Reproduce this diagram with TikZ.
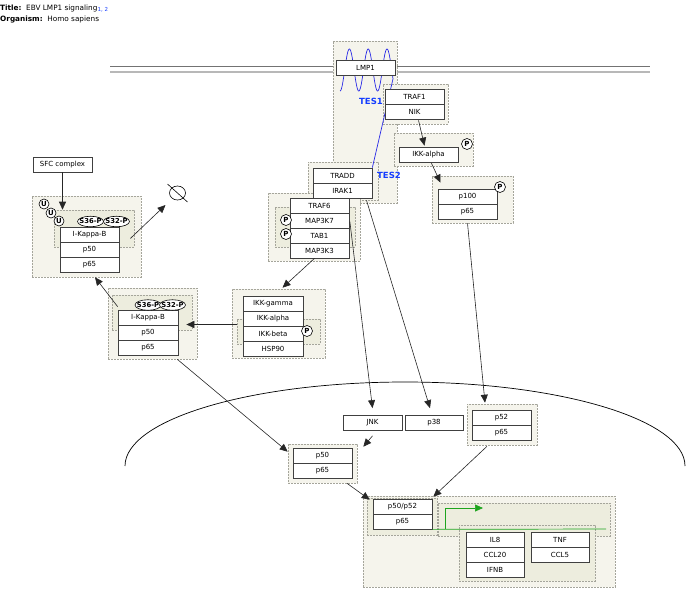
\documentclass[tikz,border=0pt]{standalone}
\usepackage{fontspec}
\setmainfont{DejaVu Sans}
\usetikzlibrary{arrows.meta,calc,fit,shapes.geometric}
\definecolor{gfill}{RGB}{245,244,236}
\definecolor{gin}{RGB}{237,237,222}
\definecolor{gborder}{RGB}{165,165,155}
\definecolor{tesblue}{RGB}{20,60,255}
\definecolor{wavec}{RGB}{40,40,230}
\definecolor{gline}{RGB}{30,165,30}
\newcommand{\zb}[1]{\makebox[0pt]{#1}}
\begin{document}
\begin{tikzpicture}[x=1pt,y=-1pt,
 grp/.style={draw=gborder,dash pattern=on 2pt off 1pt,fill=gfill,inner sep=0pt,line width=0.6pt},
 grpin/.style={grp,fill=gin},
 gene/.style={draw=black!75,fill=white,line width=0.7pt,minimum width=59pt,minimum height=15pt,inner sep=0pt,font=\fontsize{7}{8}\selectfont},
 pc/.style={circle,draw=black,fill=white,line width=0.6pt,minimum size=11pt,inner sep=0pt,font=\bfseries\fontsize{7}{7}\selectfont},
 uc/.style={pc,minimum size=10pt},
 site/.style={ellipse,draw=black,fill=white,line width=0.6pt,minimum width=26pt,minimum height=10.5pt,inner sep=0pt,font=\bfseries\fontsize{6.8}{7}\selectfont},
 arr/.style={draw=black!85,line width=0.6pt,-{Triangle[length=8pt,width=7pt]}},
 tes/.style={text=tesblue,font=\bfseries\fontsize{8.5}{9}\selectfont,inner sep=0pt},
 lbl/.style={anchor=base west,inner sep=0pt,font=\fontsize{7.3}{8}\selectfont}
]
\useasboundingbox (0,0) rectangle (695,598);

% title
\node[lbl] (title) at (0,10) {\textbf{Title:}\ \ EBV LMP1 signaling\raisebox{-1.5pt}{\textcolor{tesblue}{\fontsize{5.5}{6}\selectfont 1, 2}}};
\node[lbl] (org) at (0,21) {\textbf{Organism:}\ \ Homo sapiens};

% membrane
\draw[black!55,line width=0.7pt] (110,66) -- (650,66);
\draw[black!28,line width=1.2pt] (110,72) -- (650,72);

% nucleus
\draw[black,line width=0.7pt] (125,466) arc[start angle=180,end angle=360,x radius=280,y radius=84];

% groups
\node[grp,fit={(333,41) (397,203)}] (gLMP) {};
\node[grp,fit={(383,84) (448,124)}] (gTRAF1) {};
\node[grp,fit={(394,133) (473,166)}] (gIKKa) {};
\node[grp,fit={(432,176) (513,223)}] (gP100) {};
\node[grp,fit={(308,162) (378,200)}] (gTRADD) {};
\node[grp,fit={(268,193) (360,261)}] (gTRAF6) {};
\node[grpin,fit={(275,207) (355,247)}] (gTRAF6in) {};
\node[grp,fit={(32,196) (141,277)}] (gIkB1) {};
\node[grpin,fit={(54,210) (134,247)}] (gIkB1in) {};
\node[grp,fit={(108,288) (197,359)}] (gIkB2) {};
\node[grpin,fit={(112,295) (192,330)}] (gIkB2in) {};
\node[grp,fit={(232,289) (325,358)}] (gIKK) {};
\node[grpin,fit={(237,319) (320,344)}] (gIKKin) {};
\node[grp,fit={(467,404) (537,445)}] (gP52) {};
\node[grp,fit={(288,444) (357,483)}] (gNuc) {};
\node[grp,fit={(363,496) (615,587)}] (gBig) {};
\node[grpin,fit={(367,498) (437,535)}] (gP5052) {};
\node[grpin,fit={(438,503) (610,536)}] (gGreen) {};
\node[grpin,fit={(459,525) (595,581)}] (gGenes) {};

% LMP1 wave
\node[gene,draw=none,fill=none] (traddref) at (342.5,175.5) {};
\draw[wavec,line width=0.7pt] plot[domain=340:393,samples=150,smooth] (\x,{70+21*cos(19.149*(\x-340))}) -- (traddref.north east);

% genes
\node[gene] (lmp1) at (365.5,67.5) {LMP1};
\node[gene] (traf1) at (414.5,96.5) {TRAF1};
\node[gene] (nik) at (414.5,111.5) {NIK};
\node[gene] (ikka) at (428.5,154.5) {IKK-alpha};
\node[gene] (p100) at (467.5,196.5) {p100};
\node[gene] (p65a) at (467.5,211.5) {p65};
\node[gene] (tradd) at (342.5,175.5) {TRADD};
\node[gene] (irak1) at (342.5,190.5) {IRAK1};
\node[gene] (traf6) at (319.5,205.5) {TRAF6};
\node[gene] (map3k7) at (319.5,220.5) {MAP3K7};
\node[gene] (tab1) at (319.5,235.5) {TAB1};
\node[gene] (map3k3) at (319.5,250.5) {MAP3K3};
\node[gene] (sfc) at (62.5,164.5) {SFC complex};
\node[gene] (ikb1) at (89.5,234.5) {I-Kappa-B};
\node[gene] (p50a) at (89.5,249.5) {p50};
\node[gene] (p65b) at (89.5,264.5) {p65};
\node[gene,minimum width=60pt] (ikb2) at (148,317.5) {I-Kappa-B};
\node[gene,minimum width=60pt] (p50b) at (148,332.5) {p50};
\node[gene,minimum width=60pt] (p65c) at (148,347.5) {p65};
\node[gene,minimum width=60pt] (ikkg) at (273,303.5) {IKK-gamma};
\node[gene,minimum width=60pt] (ikka2) at (273,318.5) {IKK-alpha};
\node[gene,minimum width=60pt] (ikkb) at (273,333.5) {IKK-beta};
\node[gene,minimum width=60pt] (hsp90) at (273,348.5) {HSP90};
\node[gene] (jnk) at (372.5,423) {JNK};
\node[gene,minimum width=58pt] (p38) at (434,423) {p38};
\node[gene] (p52) at (501.5,417.5) {p52};
\node[gene] (p65d) at (501.5,432.5) {p65};
\node[gene] (p50c) at (322.5,455.5) {p50};
\node[gene] (p65e) at (322.5,470.5) {p65};
\node[gene] (p5052) at (402.5,506.5) {p50/p52};
\node[gene] (p65f) at (402.5,521.5) {p65};
\node[gene,minimum width=58pt] (il8) at (495,539.5) {IL8};
\node[gene,minimum width=58pt] (ccl20) at (495,554.5) {CCL20};
\node[gene,minimum width=58pt] (ifnb) at (495,569.5) {IFNB};
\node[gene,minimum width=58pt] (tnf) at (560,539.5) {TNF};
\node[gene,minimum width=58pt] (ccl5) at (560,554.5) {CCL5};

% modifications
\node[pc] (pIKKa) at (467,144) {\zb{P}};
\node[pc] (pP100) at (500,187) {\zb{P}};
\node[pc] (pT1) at (286,220) {\zb{P}};
\node[pc] (pT2) at (286,234) {\zb{P}};
\node[pc] (pIKKb) at (307,331) {\zb{P}};
\node[uc] (u1) at (44,204) {\zb{U}};
\node[uc] (u2) at (51,213) {\zb{U}};
\node[uc] (u3) at (59,221) {\zb{U}};
\node[site] (s36a) at (90.5,221.5) {\zb{S36-P}};
\node[site] (s32a) at (116.5,221.5) {\zb{S32-P}};
\node[site] (s36b) at (148,305) {\zb{S36-P}};
\node[site] (s32b) at (172.5,305) {\zb{S32-P}};

% labels
\node[tes] (tes1) at (371,101) {TES1};
\node[tes] (tes2) at (389,175) {TES2};

% degradation
\node[ellipse,draw=black,line width=0.6pt,minimum width=16pt,minimum height=14pt,inner sep=0pt] (deg) at (177.5,193) {};
\draw[black,line width=0.6pt] ($(deg.center)+(-10,-9)$) -- ($(deg.center)+(10,9)$);

% arrows
\draw[arr] ($(nik.south)+(4,1)$) -- ($(ikka.north)+(-4,-1)$);
\draw[arr] ($(ikka.south)+(3,1)$) -- ($(p100.north)+(-27,-6)$);
\draw[arr] ($(map3k3.south)+(-5,0)$) -- ($(gIKK.north)+(4,-1)$);
\draw[arr] ($(gIKKin.west)+(0,-7)$) -- ($(ikb2.east)+(8,7)$);
\draw[arr] ($(ikb2.north west)+(0,-3)$) -- ($(gIkB1.south)+(8.5,0)$);
\draw[arr] (sfc.south) -- (sfc.south |- gIkB1in.north);
\draw[arr] ($(gIkB1in.east)+(-4,10)$) -- ($(deg.center)+(-12,12)$);
\draw[arr] ($(gIkB2.south east)+(-20,0)$) -- ($(gNuc.north west)+(0,8)$);
\draw[arr] ($(map3k7.east)+(0.5,1)$) -- ($(jnk.north)+(0,-7)$);
\draw[arr] ($(irak1.south)+(24,2)$) -- ($(p38.north)+(-4,-7)$);
\draw[arr] ($(p65a.south)+(0,4)$) -- ($(gP52.north)+(-17,-1)$);
\draw[arr] ($(jnk.south)+(0,5)$) -- ($(gNuc.north east)+(6,3)$);
\draw[arr] ($(gNuc.south)+(24.5,0)$) -- ($(gP5052.north west)+(3,2)$);
\draw[arr] ($(gP52.south)+(-15,1)$) -- ($(gP5052.north east)+(-4,-1)$);

% transcription
\coordinate (gend) at (606,529);
\coordinate (gstart) at (445,529);
\coordinate (gtip) at (483,508);
\draw[gline,line width=0.7pt] (p65f.south east) -- (gend);
\draw[gline,line width=0.7pt,-{Triangle[length=8pt,width=7pt]}] (gstart) |- (gtip);
\end{tikzpicture}
\end{document}
